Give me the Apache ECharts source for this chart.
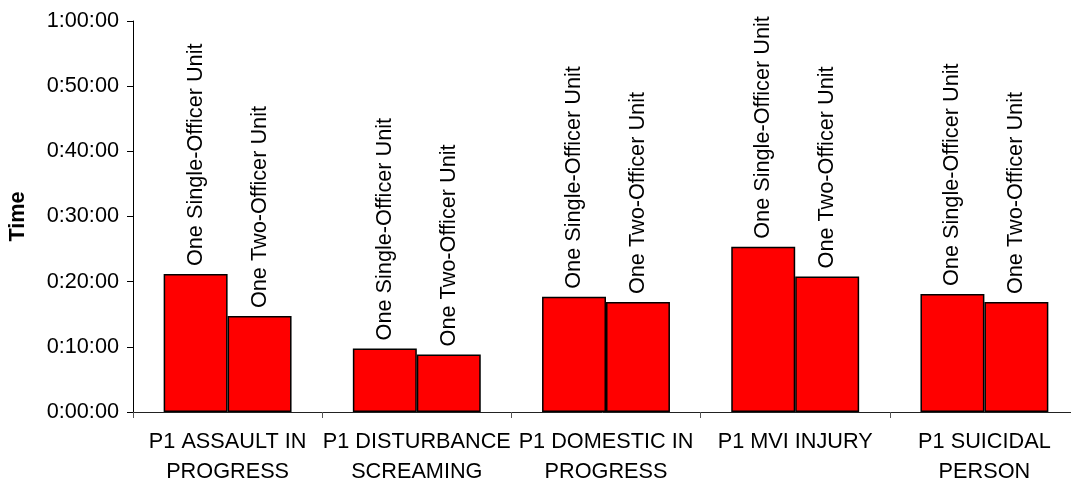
<!DOCTYPE html>
<html>
<head>
<meta charset="utf-8">
<script src="https://cdn.jsdelivr.net/npm/echarts@6/dist/echarts.min.js"></script>
<style>
html,body{margin:0;padding:0;background:#fff;}
#c{width:1071px;height:483px;}
</style>
</head>
<body>
<div id="c"></div>
<script>
// Data (times as h:mm:ss)
const categories = ['P1 ASSAULT IN\nPROGRESS', 'P1 DISTURBANCE\nSCREAMING', 'P1 DOMESTIC IN\nPROGRESS', 'P1 MVI INJURY', 'P1 SUICIDAL\nPERSON'];
const seriesNames = ['One Single-Officer Unit', 'One Two-Officer Unit'];
const singleOfficer = ['0:21:10', '0:09:45', '0:17:41', '0:25:21', '0:18:06'];
const twoOfficer = ['0:14:43', '0:08:50', '0:16:52', '0:20:48', '0:16:52'];
const yTickMinutes = [0, 10, 20, 30, 40, 50, 60];

function toSec(s) {
  const p = s.split(':').map(Number);
  return p[0] * 3600 + p[1] * 60 + p[2];
}
function fmt(v) {
  const h = Math.floor(v / 3600);
  const m = Math.floor((v % 3600) / 60);
  const s = Math.round(v % 60);
  return h + ':' + String(m).padStart(2, '0') + ':' + String(s).padStart(2, '0');
}

const FONT = 'Liberation Sans, Arial, sans-serif';
const chart = echarts.init(document.getElementById('c'), null, {renderer: 'canvas'});

function mkSeries(name, arr) {
  return {
    name: name,
    type: 'bar',
    data: arr.map(toSec),
    barGap: '0%',
    barCategoryGap: '32.4%',
    itemStyle: {color: '#ff0000', borderColor: '#000', borderWidth: 1.5},
    label: {
      show: true,
      position: 'top',
      rotate: 90,
      align: 'left',
      verticalAlign: 'middle',
      distance: 8,
      formatter: name,
      fontFamily: FONT,
      fontSize: 21.7,
      color: '#000'
    },
    animation: false
  };
}

chart.setOption({
  animation: false,
  grid: {left: 133, top: 21, width: 946, height: 391, containLabel: false, outerBoundsMode: 'none'},
  xAxis: {
    type: 'category',
    data: categories,
    boundaryGap: true,
    axisLine: {lineStyle: {color: '#222', width: 1}},
    axisTick: {show: true, length: 6, lineStyle: {color: '#555'}},
    axisLabel: {
      fontFamily: FONT, fontSize: 21.7, color: '#000', lineHeight: 30, margin: 15, interval: 0
    }
  },
  yAxis: {
    type: 'value',
    min: yTickMinutes[0] * 60,
    max: yTickMinutes[yTickMinutes.length - 1] * 60,
    interval: (yTickMinutes[1] - yTickMinutes[0]) * 60,
    name: 'Time',
    nameLocation: 'middle',
    nameGap: 104,
    nameRotate: 90,
    nameTextStyle: {fontFamily: FONT, fontSize: 21.7, fontWeight: 'bold', color: '#000'},
    axisLine: {show: true, lineStyle: {color: '#000', width: 1}},
    axisTick: {show: true, length: 6, lineStyle: {color: '#000'}},
    splitLine: {show: false},
    axisLabel: {
      fontFamily: FONT, fontSize: 21.7, color: '#000', margin: 14,
      formatter: fmt
    }
  },
  series: [mkSeries(seriesNames[0], singleOfficer), mkSeries(seriesNames[1], twoOfficer)]
});
</script>
</body>
</html>
